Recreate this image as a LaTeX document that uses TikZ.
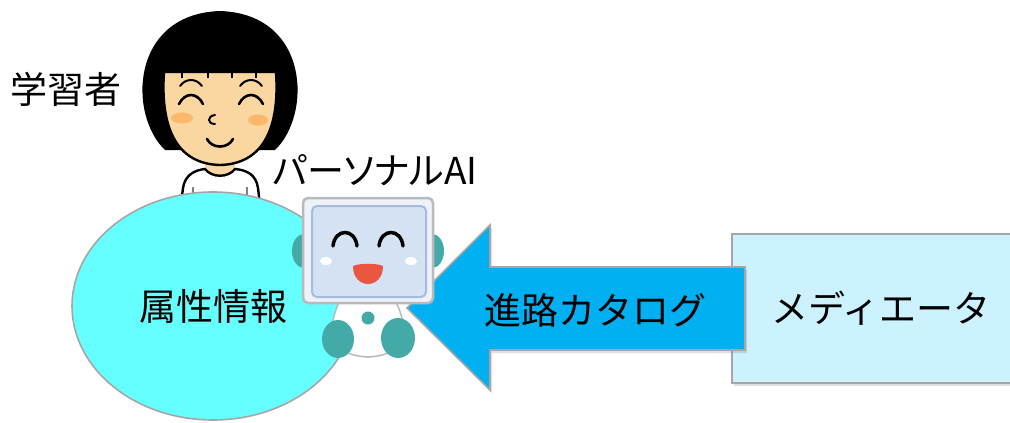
\documentclass[tikz,border=0pt]{standalone}
\usepackage{fontspec}
\setmainfont{Noto Sans CJK JP}
\newfontfamily\proportional[RawFeature=+palt]{Noto Sans CJK JP}
\usetikzlibrary{shapes.geometric,shadows}

\definecolor{attrcyan}{HTML}{66FFFF}
\definecolor{arrowblue}{HTML}{00B0F0}
\definecolor{mediacyan}{HTML}{CCF2FF}
\definecolor{edgegray}{HTML}{A6A6A6}
\definecolor{skin}{HTML}{FAD6A0}
\definecolor{blush}{HTML}{FBB86A}
\definecolor{robotteal}{HTML}{43AAA8}
\definecolor{casefill}{HTML}{EEF1F5}
\definecolor{caseedge}{HTML}{B6B9BD}
\definecolor{screen}{HTML}{D4E2F4}
\definecolor{screenedge}{HTML}{A6BBE2}
\definecolor{mouthred}{HTML}{E9573F}

\begin{document}
\begin{tikzpicture}
  [x=1pt,y=-1pt,
   every node/.style={font=\fontsize{37}{44}\selectfont,inner sep=0pt},
   soft shadow/.style={drop shadow={opacity=.25,shadow xshift=2pt,shadow yshift=-3pt}},
   attr/.style={ellipse,fill=attrcyan,draw=edgegray,line width=1.6pt,
                minimum width=282pt,minimum height=228pt},
   media/.style={rectangle,fill=mediacyan,draw=edgegray,line width=1.6pt,
                 minimum width=298pt,minimum height=149pt,soft shadow},
   catalog/.style={fill=arrowblue,draw=edgegray,line width=1.6pt,soft shadow},
   ink/.style={line width=2.6pt,line cap=round}]

  \clip (0,0) rectangle (1010,423);

  \node (learner) at (66,89) {学習者};
  \node (ai) at (375,170) {\proportional パーソナルAI};

  % girl
  \fill[black] (165,150) .. controls (128,115) and (130,14) .. (220,11)
               .. controls (310,14) and (312,115) .. (275,150) -- cycle;
  \fill[skin] (205,150) rectangle (235,178);
  \filldraw[fill=white,line width=2.4pt] (181,205) -- (183,188)
      .. controls (185,174) and (196,170) .. (205,169)
      .. controls (212,178) and (228,178) .. (235,169)
      .. controls (246,170) and (256,174) .. (258,188) -- (260,205);
  \foreach \x in {193,247}
    \draw[gray,line width=1.5pt] (\x,187) -- (\x,197);
  \filldraw[fill=skin,line width=2.4pt] (164,72) -- (276,72)
      .. controls (280,130) and (262,164) .. (220,165)
      .. controls (178,164) and (160,130) .. (164,72) -- cycle;
  \foreach \x in {182,208,232,256}
    \draw[line width=2pt] (\x,70) -- (\x,78);
  \foreach \x in {191,251} {
    \draw[line width=2pt,line cap=round] (\x-11,86) .. controls (\x-5,78) and (\x+5,78) .. (\x+11,86);
    \draw[ink] (\x-12,104) .. controls (\x-6,92) and (\x+6,92) .. (\x+12,104);
  }
  \fill[blush] (182,118) ellipse [x radius=11,y radius=5.5];
  \fill[blush] (258,120) ellipse [x radius=10,y radius=5.5];
  \draw[line width=2pt,line cap=round] (215,115) .. controls (207,116) and (207,124) .. (215,124);
  \draw[ink] (207,139) .. controls (212,149) and (228,149) .. (233,139);

  \node[attr] (attr) at (213,306) {属性情報};

  \node[media] (media) at (881,308.5) {メディエータ};

  \path[catalog] (407,308) -- (490,225) -- (490,267) -- (745,267)
                 -- (745,350) -- (490,350) -- (490,390) -- cycle;
  \node (route) at (595,310) {進路カタログ};

  % robot
  \foreach \x in {304,432}
    \fill[robotteal] (\x,251) ellipse [x radius=12,y radius=17];
  \filldraw[fill=white,draw=caseedge,line width=1.5pt] (340,300) -- (395,300)
      .. controls (410,330) and (408,355) .. (368,357)
      .. controls (328,355) and (326,330) .. (340,300) -- cycle;
  \fill[robotteal] (338,339) ellipse [x radius=16,y radius=19];
  \fill[robotteal] (398,338) ellipse [x radius=17,y radius=20];
  \fill[robotteal] (368,318) circle [radius=6.5];
  \filldraw[fill=casefill,draw=caseedge,line width=2.5pt,rounded corners=5pt]
      (303,198) rectangle (433,303);
  \filldraw[fill=screen,draw=screenedge,line width=2pt,rounded corners=5pt]
      (312,206) rectangle (426,297);
  \foreach \x in {345,391}
    \draw[line width=3.5pt,line cap=round] (\x-12,246) .. controls (\x-10,228) and (\x+10,228) .. (\x+12,246);
  \fill[white] (326,261) ellipse [x radius=6,y radius=4];
  \fill[white] (411,261) ellipse [x radius=6,y radius=4];
  \fill[mouthred] (353,266) .. controls (360,263) and (376,263) .. (383,266)
      .. controls (383,290) and (353,290) .. (353,266) -- cycle;
\end{tikzpicture}
\end{document}
